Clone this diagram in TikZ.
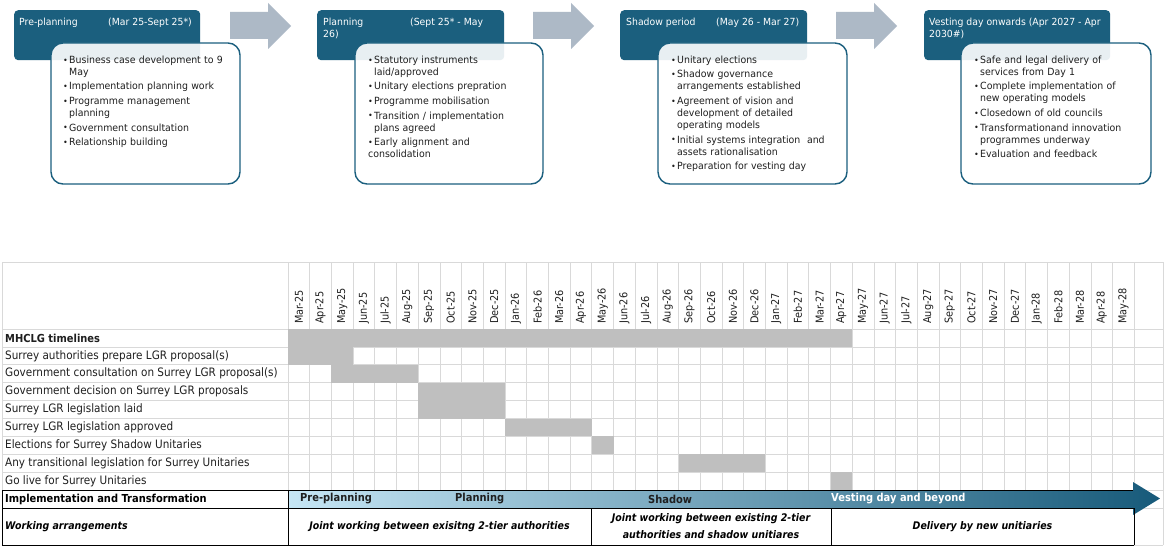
\documentclass[tikz,border=0pt]{standalone}
\usepackage{fontspec}
\setmainfont{DejaVu Sans}
\newfontfamily\condfont[FakeStretch=0.9]{DejaVu Sans}
\newfontfamily\boxfont[FakeStretch=0.95]{DejaVu Sans}
\definecolor{tealA}{HTML}{1B5F7E}
\definecolor{arrowgrey}{HTML}{ADB9C6}
\definecolor{gridc}{HTML}{D9D9D9}
\definecolor{barc}{HTML}{BFBFBF}
\definecolor{gradL}{HTML}{C6E6F5}
\definecolor{gradR}{HTML}{175A7A}
\definecolor{txt}{HTML}{1F1F1F}
\newcommand{\bitem}[1]{\par\hangindent=6pt\hangafter=1\noindent\makebox[6pt][l]{\raisebox{0.3pt}{\fontsize{8.5}{8}\selectfont •}}#1}
\tikzset{
  hdrbox/.style={fill=tealA, rounded corners=4pt},
  detbox/.style={draw=tealA, line width=1.4pt, fill=white, fill opacity=0.9, rounded corners=12pt},
  hdrtxt/.style={text=white, anchor=base west, inner sep=0pt, font=\boxfont\fontsize{9.8}{12}\selectfont},
  bultxt/.style={anchor=north west, inner sep=0pt, text width=180pt, align=left, text=txt,
    font=\boxfont\fontsize{9.9}{12}\selectfont\setlength{\parskip}{2.6pt}},
  phasearrow/.style={fill=arrowgrey},
  gridline/.style={draw=gridc, line width=0.8pt},
  bar/.style={fill=barc},
  rowlbl/.style={anchor=west, inner sep=0pt, text=txt, font=\condfont\fontsize{11.6}{12}\selectfont},
  monlbl/.style={anchor=west, rotate=90, inner sep=0pt, text=txt, font=\condfont\fontsize{10.8}{12}\selectfont},
  blk/.style={draw=black, line width=0.9pt},
  arrtxt/.style={anchor=west, inner sep=0pt, font=\condfont\bfseries\fontsize{11}{12}\selectfont},
  worktxt/.style={inner sep=0pt, align=center, text=black, font=\condfont\bfseries\itshape\fontsize{10.5}{17}\selectfont}
}
\begin{document}
\begin{tikzpicture}[x=1pt,y=-1pt]
\useasboundingbox[fill=white] (0,0) rectangle (1170,551);

% ---------- phase arrows ----------
\foreach \s/\n in {0/a1,303/a2,606/a3}{
  \path[phasearrow] (230+\s,12) -- (268+\s,12) -- (268+\s,3) -- (291+\s,26) -- (268+\s,49) -- (268+\s,39) -- (230+\s,39) -- cycle;
}

% ---------- phase boxes ----------
\node[hdrbox, minimum width=186pt, minimum height=50pt, anchor=north west, inner sep=0pt] (h1) at (14,10) {};
\node[hdrbox, minimum width=187pt, minimum height=50pt, anchor=north west, inner sep=0pt] (h2) at (317,10) {};
\node[hdrbox, minimum width=187pt, minimum height=50pt, anchor=north west, inner sep=0pt] (h3) at (620,10) {};
\node[hdrbox, minimum width=186pt, minimum height=50pt, anchor=north west, inner sep=0pt] (h4) at (924,10) {};

\node[hdrtxt] (h1a) at (19,25.5) {Pre-planning};
\node[hdrtxt] (h1b) at (108,25.5) {(Mar 25-Sept 25*)};
\node[hdrtxt] (h2a) at (323,25.5) {Planning};
\node[hdrtxt] (h2b) at (410,25.5) {(Sept 25* - May};
\node[hdrtxt] (h2c) at (323,37.5) {26)};
\node[hdrtxt] (h3a) at (626,25.5) {Shadow period};
\node[hdrtxt] (h3b) at (716,25.5) {(May 26 - Mar 27)};
\node[hdrtxt] (h4a) at (929,25.5) {Vesting day onwards (Apr 2027 - Apr};
\node[hdrtxt] (h4b) at (929,37.5) {2030\#)};

\path[detbox] (51,43) rectangle (240,184);
\path[detbox] (355,43) rectangle (543,184);
\path[detbox] (658,43) rectangle (847,184);
\path[detbox] (961,43) rectangle (1151,184);

\node[bultxt] (d1) at (63,48.5) {%
\bitem{Business case development to 9\newline May}
\bitem{Implementation planning work}
\bitem{Programme management\newline planning}
\bitem{Government consultation}
\bitem{Relationship building}};
\node[bultxt] (d2) at (368,48.5) {%
\bitem{Statutory instruments\newline laid/approved}
\bitem{Unitary elections prepration}
\bitem{Programme mobilisation}
\bitem{Transition / implementation\newline plans agreed}
\bitem{Early alignment and\newline consolidation}};
\node[bultxt] (d3) at (671,48.5) {%
\bitem{Unitary elections}
\bitem{Shadow governance\newline arrangements established}
\bitem{Agreement of vision and\newline development of detailed\newline operating models}
\bitem{Initial systems integration \ and\newline assets rationalisation}
\bitem{Preparation for vesting day}};
\node[bultxt] (d4) at (974,48.5) {%
\bitem{Safe and legal delivery of\newline services from Day 1}
\bitem{Complete implementation of\newline new operating models}
\bitem{Closedown of old councils}
\bitem{Transformationand innovation\newline programmes underway}
\bitem{Evaluation and feedback}};

% ---------- table grid ----------
\def\cw{21.7}
\def\rh{17.9}
\foreach \k in {0,...,39}{
  \draw[gridline] (288+\cw*\k,262) -- (288+\cw*\k,490);
}
\draw[gridline] (2,262) -- (2,490);
\draw[gridline] (1163,262) -- (1163,545);
\draw[gridline] (2,262) -- (1163,262);
\foreach \i in {0,...,9}{
  \draw[gridline] (2,329+\rh*\i) -- (1163,329+\rh*\i);
}
\draw[gridline] (1134,508) -- (1163,508);
\draw[gridline] (1134,545) -- (1163,545);

% bars (row, first column, number of columns)
\foreach \r/\c/\n in {0/0/26,1/0/3,2/2/4,3/6/4,4/6/4,5/10/4,6/14/1,7/18/4,8/25/1}{
  \path[bar] (288+\cw*\c,329+\rh*\r) rectangle (288+\cw*\c+\cw*\n,329+\rh*\r+\rh);
}

% month labels
\foreach \m [count=\k from 0] in {Mar-25,Apr-25,May-25,Jun-25,Jul-25,Aug-25,Sep-25,Oct-25,Nov-25,Dec-25,Jan-26,Feb-26,Mar-26,Apr-26,May-26,Jun-26,Jul-26,Aug-26,Sep-26,Oct-26,Nov-26,Dec-26,Jan-27,Feb-27,Mar-27,Apr-27,May-27,Jun-27,Jul-27,Aug-27,Sep-27,Oct-27,Nov-27,Dec-27,Jan-28,Feb-28,Mar-28,Apr-28,May-28}{
  \node[monlbl] (m\k) at (288+\cw*\k+\cw/2,324) {\m};
}

% row labels
\node[rowlbl, font=\condfont\bfseries\fontsize{11}{12}\selectfont] (r0) at (5,329+\rh*0.5) {MHCLG timelines};
\node[rowlbl] (r1) at (5,329+\rh*1.5) {Surrey authorities prepare LGR proposal(s)};
\node[rowlbl] (r2) at (5,329+\rh*2.5) {Government consultation on Surrey LGR proposal(s)};
\node[rowlbl] (r3) at (5,329+\rh*3.5) {Government decision on Surrey LGR proposals};
\node[rowlbl] (r4) at (5,329+\rh*4.5) {Surrey LGR legislation laid};
\node[rowlbl] (r5) at (5,329+\rh*5.5) {Surrey LGR legislation approved};
\node[rowlbl] (r6) at (5,329+\rh*6.5) {Elections for Surrey Shadow Unitaries};
\node[rowlbl] (r7) at (5,329+\rh*7.5) {Any transitional legislation for Surrey Unitaries};
\node[rowlbl] (r8) at (5,329+\rh*8.5) {Go live for Surrey Unitaries};

% ---------- implementation arrow ----------
\shade[left color=gradL, right color=gradR] (288,490) -- (1133,490) -- (1133,482) -- (1160,498.5) -- (1133,515) -- (1133,508) -- (288,508) -- cycle;

\draw[blk] (2,490) -- (1133,490);
\draw[blk] (2,508) -- (1134,508);
\draw[blk] (2,545) -- (1134,545);
\draw[blk] (2,490) -- (2,545);
\draw[blk] (288,490) -- (288,545);
\draw[blk] (591,508) -- (591,545);
\draw[blk] (831,508) -- (831,545);
\draw[blk] (1134,508) -- (1134,545);

\node[rowlbl, text=black, font=\condfont\bfseries\fontsize{11}{12}\selectfont] (impl) at (5,499) {Implementation and Transformation};
\node[rowlbl, text=black, font=\condfont\bfseries\itshape\fontsize{10.5}{12}\selectfont] (work) at (5,527) {Working arrangements};

\node[arrtxt, text=txt] (p1) at (300,499) {Pre-planning};
\node[arrtxt, text=txt] (p2) at (455,499) {Planning};
\node[arrtxt, text=txt] (p3) at (648,499) {Shadow};
\node[arrtxt, text=white] (p4) at (831,499) {Vesting day and beyond};

\node[worktxt] (w1) at (439.5,527) {Joint working between exisitng 2-tier authorities};
\node[worktxt] (w2) at (711,526.5) {Joint working between existing 2-tier\\authorities and shadow unitiares};
\node[worktxt] (w3) at (982.5,527) {Delivery by new unitiaries};
\end{tikzpicture}
\end{document}
